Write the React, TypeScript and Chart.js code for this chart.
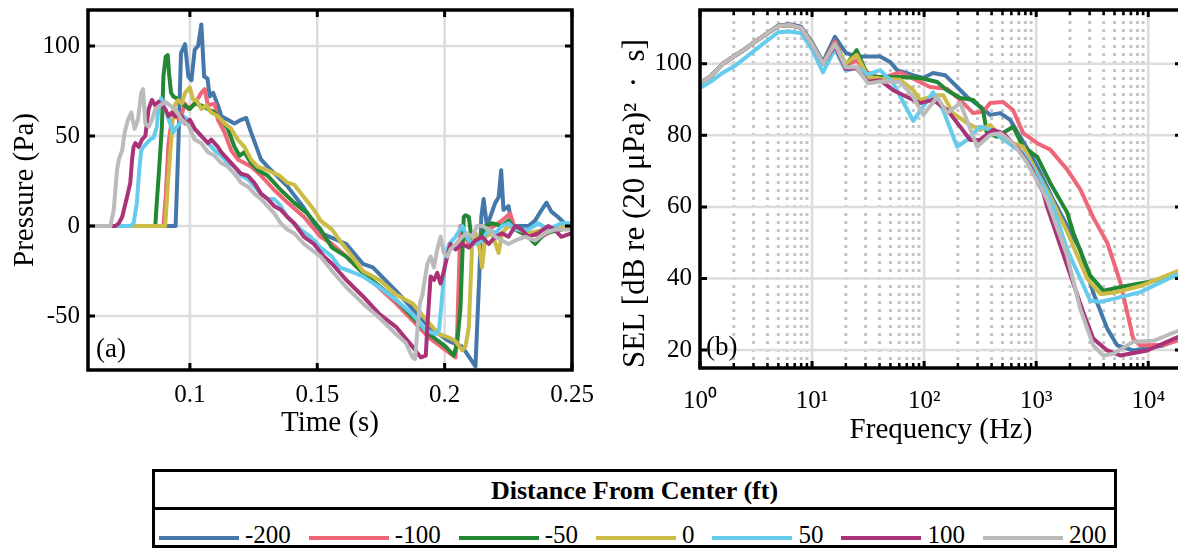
import React, { useEffect, useRef } from 'react';
import { Chart, registerables } from 'chart.js';

Chart.register(...registerables);

const FONT = "'Liberation Serif', 'Times New Roman', Times, serif";

// ---------- legend / series ----------
const distanceLabels = ['-200', '-100', '-50', '0', '50', '100', '200'];
const seriesColors = ['#4477AA', '#EE6677', '#228833', '#CCBB44', '#66CCEE', '#AA3377', '#BBBBBB'];

// ---------- axes ----------
const timeTicks = [0.1, 0.15, 0.2, 0.25];
const timeTickLabels = ['0.1', '0.15', '0.2', '0.25'];
const pressureTicks = [-50, 0, 50, 100];
const pressureTickLabels = ['-50', '0', '50', '100'];
const freqTicks = [1, 10, 100, 1000, 10000];
const freqTickLabels = ['10⁰', '10¹', '10²', '10³', '10⁴'];
const selTicks = [20, 40, 60, 80, 100];
const selTickLabels = ['20', '40', '60', '80', '100'];

// ---------- (a) pressure waveforms: [time s, pressure Pa] ----------
const pulseNeg200: [number, number][] = [[0.06,0],[0.0944,0],[0.0955,46],[0.0965,96],[0.0981,101],[0.0994,83],[0.1006,81],[0.1019,98],[0.1032,100],[0.1045,112],[0.1056,83],[0.1069,82],[0.1078,72],[0.1091,74],[0.111,67],[0.1123,61],[0.1149,59],[0.1175,57],[0.1201,59],[0.1221,60],[0.124,52],[0.1266,42],[0.1279,37],[0.1305,33],[0.1383,22],[0.1448,10],[0.1513,-4],[0.1549,-6],[0.1614,-10],[0.1679,-21],[0.1718,-23],[0.1809,-36],[0.1939,-56],[0.2017,-64],[0.2069,-67],[0.2121,-78],[0.2136,-28],[0.2144,5],[0.2153,15],[0.2166,0],[0.2179,5],[0.2199,13],[0.2212,16],[0.2222,31],[0.2231,9],[0.2251,11],[0.2264,0],[0.229,0],[0.2329,0],[0.2355,3],[0.2381,9],[0.24,13],[0.2419,8],[0.2445,5],[0.2471,1.5],[0.25,0.5]];
const pulseNeg100: [number, number][] = [[0.06,0],[0.0896,0],[0.0905,16],[0.0916,46],[0.0929,59],[0.0944,61],[0.0961,59],[0.0981,68],[0.0994,65],[0.1019,68],[0.1045,74],[0.1058,76],[0.1071,67],[0.1097,68],[0.111,59],[0.1136,52],[0.1162,42],[0.1188,37],[0.1214,35],[0.124,33],[0.1279,28],[0.1331,20],[0.1383,13],[0.1448,5],[0.1513,-6],[0.1558,-10],[0.1614,-17],[0.1679,-26],[0.1809,-43],[0.1939,-62],[0.2004,-69],[0.2043,-73],[0.2049,-60],[0.2062,0],[0.2095,-10],[0.2134,-8],[0.2173,-2],[0.2225,3],[0.2257,7],[0.2277,-2],[0.2329,-4],[0.2381,-6],[0.2432,-2],[0.2458,0],[0.25,-2]];
const pulseNeg50: [number, number][] = [[0.06,0],[0.0864,0],[0.087,13],[0.0879,31],[0.089,55],[0.0896,83],[0.0905,94],[0.0913,95],[0.0918,85],[0.0926,74],[0.0935,72],[0.0948,71],[0.0968,68],[0.1,65],[0.1019,68],[0.1045,67],[0.1071,65],[0.1097,63],[0.1123,59],[0.1149,54],[0.1175,44],[0.1195,39],[0.1214,41],[0.124,35],[0.1266,31],[0.1305,28],[0.1357,20],[0.1409,13],[0.1461,7],[0.1513,-2],[0.1558,-12],[0.1614,-17],[0.1679,-26],[0.1809,-41],[0.1939,-60],[0.2004,-67],[0.2036,-72],[0.2049,-65],[0.2062,-46],[0.2075,5],[0.2082,6],[0.2095,5],[0.2108,-10],[0.2134,-8],[0.216,0],[0.2186,1.5],[0.2225,0],[0.2251,3],[0.2277,-2],[0.2329,-6],[0.2355,-10],[0.2394,-4],[0.2458,-2],[0.25,0]];
const pulseZero: [number, number][] = [[0.06,0],[0.0903,0],[0.0916,28],[0.0926,46],[0.0935,65],[0.0944,68],[0.0955,70],[0.0968,68],[0.0981,74],[0.1,77],[0.1013,70],[0.1026,70],[0.1045,65],[0.1065,67],[0.1084,63],[0.111,61],[0.1136,57],[0.1162,54],[0.1188,48],[0.1214,44],[0.124,37],[0.1266,33],[0.1305,31],[0.1351,28],[0.1383,24],[0.1409,23],[0.1448,16],[0.1487,9],[0.1513,3],[0.1558,-2],[0.1588,-8],[0.1627,-15],[0.1679,-25],[0.1744,-30],[0.1809,-38],[0.1874,-43],[0.1939,-54],[0.1978,-60],[0.2017,-62],[0.2043,-64],[0.2069,-69],[0.2082,-67],[0.2095,-56],[0.2108,-10],[0.2121,-4],[0.2134,-10],[0.2147,-23],[0.216,-6],[0.2186,-4],[0.2212,-15],[0.2225,-4],[0.2251,0],[0.229,-2],[0.2329,-4],[0.2394,-2],[0.25,0]];
const pulsePos50: [number, number][] = [[0.06,0],[0.0766,0],[0.0779,1.5],[0.0792,13],[0.0801,31],[0.0809,42],[0.0818,44],[0.0831,46],[0.0844,48],[0.0857,49],[0.087,55],[0.0877,67],[0.0887,71],[0.0903,65],[0.0922,57],[0.0935,52],[0.0948,55],[0.0961,57],[0.0974,61],[0.0994,59],[0.1019,54],[0.1045,50],[0.1071,46],[0.1097,42],[0.1123,39],[0.1149,35],[0.1175,33],[0.1201,28],[0.1227,26],[0.1253,22],[0.1279,18],[0.1305,15],[0.1331,15],[0.1357,11],[0.1383,5],[0.1409,1.5],[0.1435,-2],[0.1474,-6],[0.1513,-12],[0.1558,-17],[0.1588,-23],[0.1627,-25],[0.1679,-28],[0.1744,-34],[0.1809,-41],[0.1874,-49],[0.1926,-58],[0.1965,-60],[0.1978,-58],[0.1991,-38],[0.2004,-17],[0.2017,-10],[0.2043,-6],[0.2069,0],[0.2095,-8],[0.2121,-10],[0.2147,-8],[0.2173,-2],[0.2199,-4],[0.2225,0],[0.2251,1.5],[0.2277,-2],[0.2329,-2],[0.2368,1.5],[0.2406,-2],[0.2458,1.5],[0.25,1.5]];
const pulsePos100: [number, number][] = [[0.06,0],[0.0708,0],[0.0721,1.5],[0.0734,5],[0.0753,16],[0.0766,24],[0.0773,37],[0.0779,44],[0.0786,46],[0.0799,44],[0.0812,48],[0.0825,50],[0.0838,65],[0.0851,70],[0.0864,67],[0.0877,69],[0.089,67],[0.0903,65],[0.0916,61],[0.0929,63],[0.0942,61],[0.0955,62],[0.0968,61],[0.0981,57],[0.1,59],[0.1019,54],[0.1045,50],[0.1071,46],[0.1084,48],[0.111,44],[0.1123,41],[0.1149,37],[0.1175,33],[0.1201,29],[0.1227,28],[0.1253,24],[0.1279,18],[0.1305,15],[0.1331,11],[0.1357,9],[0.1383,5],[0.1409,1.5],[0.1448,-6],[0.1487,-10],[0.1526,-17],[0.1558,-21],[0.1614,-30],[0.1679,-39],[0.1744,-49],[0.1809,-56],[0.1874,-67],[0.1906,-73],[0.1926,-72],[0.1932,-56],[0.1945,-28],[0.1958,-30],[0.1971,-26],[0.1984,-32],[0.1997,-25],[0.201,-17],[0.2023,-10],[0.2043,-13],[0.2069,-10],[0.2095,-12],[0.2121,-8],[0.2147,-6],[0.2173,-10],[0.2199,-6],[0.2225,-4],[0.2251,-6],[0.2277,0],[0.2303,-2],[0.2329,-6],[0.2368,-4],[0.2406,0],[0.2432,-2],[0.2458,-6],[0.25,-4]];
const pulsePos200: [number, number][] = [[0.06,0],[0.0688,0],[0.0701,9],[0.0714,31],[0.0721,37],[0.0734,42],[0.0744,52],[0.0757,59],[0.077,63],[0.0783,54],[0.0796,59],[0.0809,74],[0.0816,76],[0.0825,57],[0.0838,55],[0.0851,59],[0.0864,65],[0.0883,67],[0.0903,69],[0.0922,67],[0.0942,65],[0.0968,59],[0.0994,56],[0.1019,48],[0.1045,46],[0.1071,41],[0.1097,39],[0.1123,35],[0.1149,33],[0.1175,29],[0.1201,24],[0.1227,22],[0.1253,18],[0.1279,15],[0.1305,11],[0.1331,7],[0.1357,1.5],[0.1383,-2],[0.1409,-4],[0.1448,-10],[0.1513,-17],[0.1558,-25],[0.1614,-34],[0.1679,-43],[0.1744,-51],[0.1809,-60],[0.1848,-65],[0.1874,-73],[0.1884,-74],[0.1894,-56],[0.1903,-43],[0.1913,-38],[0.1932,-21],[0.1945,-17],[0.1958,-23],[0.1971,-13],[0.1984,-6],[0.1997,-15],[0.201,-17],[0.2023,-13],[0.2043,-10],[0.2069,-6],[0.2088,-4],[0.2108,-6],[0.2127,0],[0.2147,0],[0.2173,-2],[0.2199,-6],[0.2225,-8],[0.2251,-10],[0.2277,-8],[0.2316,-6],[0.2355,-8],[0.2394,-4],[0.2432,-2],[0.2458,-2],[0.25,-2]];

// ---------- (b) SEL spectra: [frequency Hz, SEL dB] ----------
const selNeg200: [number, number][] = [[1,94.5],[1.25,96.5],[1.6,100],[2,102],[2.5,104],[3.15,106.3],[4,108.5],[5,110.7],[6.3,111],[8,110.3],[10,106],[12.5,100.5],[16,107.5],[20,103],[25,102],[31.5,102],[40.5,102],[49.7,100.5],[57.4,98.2],[79.8,96.8],[98,96],[120,97.4],[154,96.8],[197,93.5],[242,90.7],[316,88],[388,85.7],[477,86.2],[586,84.3],[720,79.6],[884,75],[1090,69.5],[1419,62],[1892,54.6],[2473,48],[3230,36],[4305,26],[5290,21.3],[7340,19.9],[13600,21.3],[18530,23],[20000,23.3]];
const selNeg100: [number, number][] = [[1,94.5],[1.25,96.5],[1.6,100],[2,102],[2.5,104],[3.15,106.3],[4,108.5],[5,110.5],[6.3,110.8],[8,110],[10,105.5],[12.5,100],[16,106.3],[20,99.5],[25,100.9],[31.5,97.5],[40.5,95.9],[61,97.6],[113,93.5],[160,93],[210,89.9],[274,86.2],[336,86.6],[388,89],[507,89.3],[623,87],[765,80.6],[1021,77.8],[1334,76],[1892,70.4],[2473,64.9],[3230,57],[4305,50],[5623,39],[7340,23.2],[8483,21.3],[13600,21.5],[20000,23]];
const selNeg50: [number, number][] = [[1,94.5],[1.25,96.5],[1.6,100],[2,102],[2.5,104],[3.15,106.3],[4,108.5],[5,110.5],[6.3,110.8],[8,110],[10,105.5],[12.5,100],[16,105.5],[20,99.5],[25,103.8],[31.5,96.5],[40.5,96.3],[61,96.3],[92,96],[131,94.9],[160,92.6],[210,90.4],[274,89.9],[336,87],[363,80.6],[446,79.6],[623,82.4],[765,76.8],[1021,74],[1334,66.7],[1892,58.4],[2140,52.8],[3035,40.8],[3963,36.6],[5623,37.6],[10000,39],[20000,41.5]];
const selZero: [number, number][] = [[1,94.5],[1.25,96.5],[1.6,100],[2,102],[2.5,104],[3.15,106.3],[4,108.5],[5,110.5],[6.3,110.8],[8,110],[10,105.5],[12.5,100],[16,105.5],[20,100],[25,102.5],[31.5,96.3],[40.5,95.9],[61,95.5],[80,92.6],[92,89.9],[131,91.2],[148,91.2],[181,86.2],[242,83.4],[316,81.5],[388,82.9],[507,78.7],[765,76.8],[1021,69.5],[1334,62.9],[1892,53],[2853,40],[3728,35.7],[4873,36],[8483,37.9],[18530,42.1],[20000,42.5]];
const selPos50: [number, number][] = [[1,93.2],[1.25,95],[1.6,97.5],[2,99.2],[2.5,101.5],[3.15,104],[4,106.5],[5,108.8],[6.3,109],[8,108.5],[10,104],[12.5,97.6],[16,104],[20,98],[25,99],[31.5,97],[40.5,98.2],[52.9,94.6],[80,84],[98,88],[120,92],[148,87],[197,76.8],[242,78.7],[316,82.4],[388,81.5],[477,79.6],[623,76.8],[765,75],[1086,67.6],[1419,60],[1892,48],[2473,40],[3035,33.8],[3728,33.5],[4873,34.3],[8483,36.2],[18530,41.3],[20000,41.8]];
const selPos100: [number, number][] = [[1,94.5],[1.25,96.5],[1.6,100],[2,102],[2.5,104],[3.15,106.3],[4,108.5],[5,110.5],[6.3,110.8],[8,110],[10,105.5],[12.5,100],[16,105],[20,98.5],[25,98.7],[31.5,95],[40.5,95.4],[52.9,92.6],[70.5,90.7],[92,89],[120,89.9],[160,87.1],[210,82.4],[258,78.7],[316,78.7],[413,81.5],[507,80.6],[700,76],[884,71.3],[1155,64],[1253,60],[1892,43.5],[2630,30.6],[3230,23.2],[4305,19.9],[5623,18.5],[9795,19.9],[18530,23.7],[20000,24]];
const selPos200: [number, number][] = [[1,94.5],[1.25,96.5],[1.6,100],[2,102],[2.5,104],[3.15,106.3],[4,108.5],[5,110.5],[6.3,110.8],[8,110],[10,105.5],[12.5,100],[16,105.5],[20,99],[25,99],[31.5,94.5],[40.5,95],[61,94.9],[80,90.7],[98,85.7],[131,90.7],[160,86.2],[210,89],[297,76.8],[388,80.1],[477,80.6],[623,77.8],[832,72.2],[1086,65.8],[1253,62],[1892,46.3],[2473,31.5],[3230,21.3],[3963,18.5],[4873,19],[7340,22.3],[11090,22.6],[18530,25.4],[20000,25.8]];

const pulseSeries = [pulseNeg200, pulseNeg100, pulseNeg50, pulseZero, pulsePos50, pulsePos100, pulsePos200];
const selSeries = [selNeg200, selNeg100, selNeg50, selZero, selPos50, selPos100, selPos200];

// minor log grid positions (2..9 x decade)
const freqMinor: number[] = [];
for (let d = 1; d <= 10000; d *= 10) {
  for (let m = 2; m <= 9; m++) if (m * d <= 20000) freqMinor.push(m * d);
}

const framePlugin = {
  id: 'frame',
  beforeDatasetsDraw(chart: any, _a: any, opts: any) {
    const { ctx, chartArea: a, scales } = chart;
    const xs = scales.x, ys = scales.y;
    ctx.save();
    if (opts.xMinor) {
      ctx.strokeStyle = '#c6c6c6';
      ctx.lineWidth = 3;
      ctx.setLineDash([3, 5]);
      for (const v of opts.xMinor) {
        const px = xs.getPixelForValue(v);
        ctx.beginPath(); ctx.moveTo(px, a.bottom); ctx.lineTo(px, a.top); ctx.stroke();
      }
      ctx.setLineDash([]);
    }
    ctx.strokeStyle = '#dcdcdc';
    ctx.lineWidth = 2.5;
    for (const v of opts.xMajor) {
      const px = xs.getPixelForValue(v);
      ctx.beginPath(); ctx.moveTo(px, a.bottom); ctx.lineTo(px, a.top); ctx.stroke();
    }
    for (const v of opts.yMajor) {
      const py = ys.getPixelForValue(v);
      ctx.beginPath(); ctx.moveTo(a.left, py); ctx.lineTo(a.right, py); ctx.stroke();
    }
    ctx.restore();
  },
  afterDatasetsDraw(chart: any, _a: any, opts: any) {
    const { ctx, chartArea: a, scales } = chart;
    const xs = scales.x, ys = scales.y;
    ctx.save();
    ctx.strokeStyle = '#000';
    ctx.lineCap = 'butt';
    ctx.lineWidth = 3;
    const major = 7, minor = 5;
    for (const v of opts.xMajor) {
      const px = xs.getPixelForValue(v);
      ctx.beginPath();
      ctx.moveTo(px, a.bottom); ctx.lineTo(px, a.bottom - major);
      ctx.moveTo(px, a.top); ctx.lineTo(px, a.top + major);
      ctx.stroke();
    }
    if (opts.xMinor) {
      ctx.lineWidth = 2.5;
      for (const v of opts.xMinor) {
        const px = xs.getPixelForValue(v);
        ctx.beginPath();
        ctx.moveTo(px, a.bottom); ctx.lineTo(px, a.bottom - minor);
        ctx.moveTo(px, a.top); ctx.lineTo(px, a.top + minor);
        ctx.stroke();
      }
    }
    ctx.lineWidth = 3;
    for (const v of opts.yMajor) {
      const py = ys.getPixelForValue(v);
      ctx.beginPath();
      ctx.moveTo(a.left, py); ctx.lineTo(a.left + major, py);
      ctx.moveTo(a.right, py); ctx.lineTo(a.right - major, py);
      ctx.stroke();
    }
    ctx.lineWidth = 3.5;
    ctx.strokeRect(a.left, a.top, a.right - a.left, a.bottom - a.top);
    ctx.fillStyle = '#000';
    ctx.font = `27px ${FONT}`;
    ctx.textBaseline = 'alphabetic';
    ctx.textAlign = 'left';
    ctx.fillText(opts.label, a.left + opts.labelDx, a.bottom - 13);
    ctx.restore();
  },
};

function makeDatasets(series: [number, number][][]) {
  // draw -200 first, 200 last (on top)
  return series
    .map((s, i) => ({
      label: distanceLabels[i],
      data: s.map(([x, y]) => ({ x, y })),
      borderColor: seriesColors[i],
      backgroundColor: seriesColors[i],
      borderWidth: 4,
      pointRadius: 0,
      fill: false,
      tension: 0,
      borderJoinStyle: 'round' as const,
      borderCapStyle: 'round' as const,
    }))
    .reverse();
}

const tickFont = { family: FONT, size: 25 };
const titleFont = { family: FONT, size: 29 };

const fixY = (w: number) => (s: any) => { s.width = w; s.paddingTop = 0; s.paddingBottom = 0; };
const fixX = (h: number) => (s: any) => { s.height = h; s.paddingLeft = 0; s.paddingRight = 0; };

export default function App() {
  const leftRef = useRef<HTMLCanvasElement>(null);
  const rightRef = useRef<HTMLCanvasElement>(null);

  useEffect(() => {
    const left = new Chart(leftRef.current as HTMLCanvasElement, {
      type: 'line',
      data: { datasets: makeDatasets(pulseSeries) as any },
      plugins: [framePlugin as any],
      options: {
        animation: false,
        responsive: false,
        devicePixelRatio: 1,
        events: [],
        layout: { padding: { left: 0, top: 10, right: 38, bottom: 0 }, autoPadding: false } as any,
        plugins: {
          legend: { display: false },
          tooltip: { enabled: false },
          frame: { xMajor: timeTicks, yMajor: pressureTicks, label: '(a)', labelDx: 8 },
        } as any,
        scales: {
          x: {
            type: 'linear',
            min: 0.06,
            max: 0.25,
            afterFit: fixX(80),
            afterBuildTicks: (s: any) => { s.ticks = timeTicks.map((v) => ({ value: v })); },
            grid: { display: false, drawTicks: false },
            border: { display: false },
            ticks: {
              padding: 10, font: tickFont, color: '#000', autoSkip: false, maxRotation: 0,
              callback: (v: any) => timeTickLabels[timeTicks.indexOf(v)],
            },
            title: { display: true, text: 'Time (s)', font: titleFont, color: '#000', padding: { top: 0, bottom: 9 } },
          },
          y: {
            type: 'linear',
            min: -80,
            max: 120,
            afterFit: fixY(88),
            afterBuildTicks: (s: any) => { s.ticks = pressureTicks.map((v) => ({ value: v })); },
            grid: { display: false, drawTicks: false },
            border: { display: false },
            ticks: {
              padding: 8, font: tickFont, color: '#000', autoSkip: false,
              callback: (v: any) => pressureTickLabels[pressureTicks.indexOf(v)],
            },
            title: { display: true, text: 'Pressure (Pa)', font: titleFont, color: '#000', padding: { top: 8, bottom: 0 } },
          },
        },
      } as any,
    });

    const right = new Chart(rightRef.current as HTMLCanvasElement, {
      type: 'line',
      data: { datasets: makeDatasets(selSeries) as any },
      plugins: [framePlugin as any],
      options: {
        animation: false,
        responsive: false,
        devicePixelRatio: 1,
        events: [],
        layout: { padding: { left: 0, top: 10, right: 8, bottom: 0 }, autoPadding: false } as any,
        plugins: {
          legend: { display: false },
          tooltip: { enabled: false },
          frame: { xMajor: freqTicks, xMinor: freqMinor, yMajor: selTicks, label: '(b)', labelDx: 6 },
        } as any,
        scales: {
          x: {
            type: 'logarithmic',
            min: 1,
            max: 20000,
            afterFit: fixX(82),
            afterBuildTicks: (s: any) => { s.ticks = freqTicks.map((v) => ({ value: v })); },
            grid: { display: false, drawTicks: false },
            border: { display: false },
            ticks: {
              padding: 18, font: tickFont, color: '#000', autoSkip: false, maxRotation: 0,
              callback: (v: any) => freqTickLabels[freqTicks.indexOf(v)],
            },
            title: { display: true, text: 'Frequency (Hz)', font: titleFont, color: '#000', padding: { top: 0, bottom: 2 } },
          },
          y: {
            type: 'linear',
            min: 15,
            max: 115,
            afterFit: fixY(110),
            afterBuildTicks: (s: any) => { s.ticks = selTicks.map((v) => ({ value: v })); },
            grid: { display: false, drawTicks: false },
            border: { display: false },
            ticks: {
              padding: 8, font: tickFont, color: '#000', autoSkip: false,
              callback: (v: any) => selTickLabels[selTicks.indexOf(v)],
            },
            title: {
              display: true, text: 'SEL [dB re (20 μPa)²  ·  s]', align: 'start',
              font: { family: FONT, size: 31 }, color: '#000', padding: { top: 27, bottom: 0 },
            },
          },
        },
      } as any,
    });

    return () => {
      left.destroy();
      right.destroy();
    };
  }, []);

  return (
    <div style={{ position: 'absolute', left: 0, top: 0, width: 1178, height: 549, overflow: 'hidden', background: '#fff', fontFamily: FONT, color: '#000' }}>
      <canvas ref={leftRef} width={610} height={450} style={{ position: 'absolute', left: 0, top: 0, width: 610, height: 450 }} />
      <canvas ref={rightRef} width={600} height={450} style={{ position: 'absolute', left: 590, top: 0, width: 600, height: 450 }} />
      <div style={{ position: 'absolute', left: 152, top: 469, width: 965, height: 79, boxSizing: 'border-box', border: '3px solid #000', background: '#fff' }}>
        <div style={{ height: 35, borderBottom: '3px solid #000', textAlign: 'center', fontWeight: 'bold', fontSize: 26, lineHeight: '38px', whiteSpace: 'nowrap' }}>
          Distance From Center (ft)
        </div>
        <div style={{ display: 'flex', alignItems: 'center', height: 20, marginTop: 18, paddingLeft: 4, fontSize: 25, lineHeight: '20px', whiteSpace: 'nowrap' }}>
          {distanceLabels.map((lab, i) => (
            <div key={lab} style={{ display: 'flex', alignItems: 'center', marginRight: i < distanceLabels.length - 1 ? 18 : 0 }}>
              <span style={{ display: 'inline-block', width: 80, height: 4, background: seriesColors[i], marginRight: 6 }} />
              <span style={{ position: 'relative', top: -3 }}>{lab}</span>
            </div>
          ))}
        </div>
      </div>
    </div>
  );
}
